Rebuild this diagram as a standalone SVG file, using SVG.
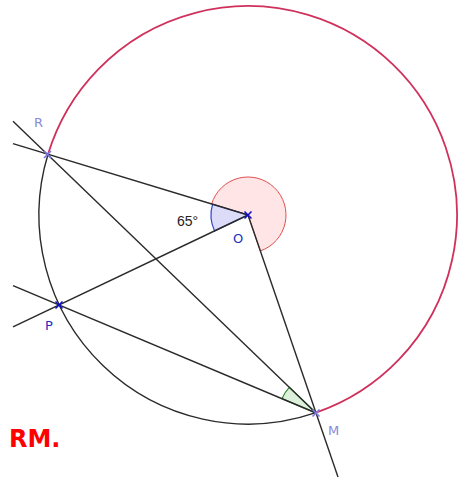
<svg xmlns="http://www.w3.org/2000/svg" width="459" height="480" viewBox="0 0 459 480">
<style>
.ln{stroke:#2a2a2a;stroke-width:1.4;fill:none}
.pt{stroke-width:1.6;fill:none}
.lbl{font-family:"DejaVu Sans","Liberation Sans",sans-serif;font-size:13px}
</style>
<rect width="459" height="480" fill="#fff"/>
<g id="circle">
<path d="M48,154.3 A209,209 0 0 0 315.9,412.7" class="ln"/>
<path d="M315.9,412.7 A209,209 0 1 0 48,154.3" fill="none" stroke="#d0305c" stroke-width="1.8"/>
</g>
<g id="angles">
<path d="M248,215 L211.63,203.97 A38,38 0 1 1 260.34,250.94 Z" fill="#ffdede" fill-opacity="0.8" stroke="#e05050" stroke-width="1"/>
<path d="M248,215 L214.59,230.9 A37,37 0 0 1 212.59,204.26 Z" fill="#dcdcf8" stroke="#3344cc" stroke-width="1.2"/>
<path d="M316,413 L281.89,398.66 A37,37 0 0 1 289.35,387.33 Z" fill="#dcf0dc" stroke="#338833" stroke-width="1.2"/>
</g>
<g id="connectors">
<line x1="13" y1="143.7" x2="248" y2="215" class="ln"/>
<line x1="13" y1="121.3" x2="316" y2="413" class="ln"/>
<line x1="13" y1="326.9" x2="248" y2="215" class="ln"/>
<line x1="13" y1="285.7" x2="316" y2="413" class="ln"/>
<line x1="248" y1="215" x2="338" y2="477" class="ln"/>
</g>
<g id="R">
<path d="M44,151 l7,7 M44,158 l7,-7" class="pt" stroke="#7a7ae0"/>
<text x="34" y="127" class="lbl" fill="#8a8ad8">R</text>
</g>
<g id="O">
<path d="M244.5,211.5 l7,7 M244.5,218.5 l7,-7" class="pt" stroke="#1010d0"/>
<text x="233" y="243" class="lbl" fill="#2030c0">O</text>
</g>
<g id="P">
<path d="M55.5,301.5 l7,7 M55.5,308.5 l7,-7" class="pt" stroke="#1010d0"/>
<text x="45" y="330" class="lbl" fill="#2030c0">P</text>
</g>
<g id="M">
<path d="M312.5,409.5 l7,7 M312.5,416.5 l7,-7" class="pt" stroke="#7a7ae0"/>
<text x="328" y="435" class="lbl" fill="#8a8ad8">M</text>
</g>
<text x="177" y="226" font-family="Liberation Sans,Arial,sans-serif" font-size="14" fill="#222">65°</text>
<text x="9" y="447" font-family="DejaVu Sans,Verdana,sans-serif" font-size="24" font-weight="bold" fill="#ff0000">RM.</text>
</svg>
